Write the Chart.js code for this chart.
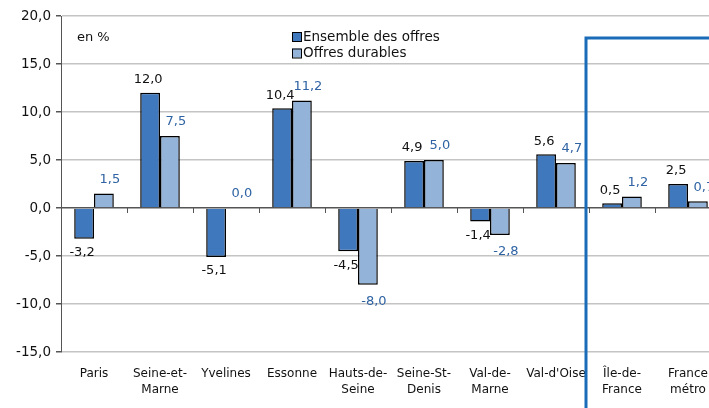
<!DOCTYPE html>
<html>
<head>
<meta charset="utf-8">
<script src="https://cdn.jsdelivr.net/npm/chart.js@4.4.0/dist/chart.umd.min.js"></script>
<style>
  html, body { margin: 0; padding: 0; background: #fff; overflow: hidden; }
  #wrap { position: relative; width: 726px; height: 408px; }
</style>
</head>
<body>
<div id="wrap"><canvas id="barChart"></canvas></div>
<script>
const categories = [
  ['Paris'], ['Seine-et-', 'Marne'], ['Yvelines'], ['Essonne'], ['Hauts-de-', 'Seine'],
  ['Seine-St-', 'Denis'], ['Val-de-', 'Marne'], ["Val-d'Oise"], ['Île-de-', 'France'], ['France', 'métro']
];
const ensembleOffres = [-3.2, 12.0, -5.1, 10.4, -4.5, 4.9, -1.4, 5.6, 0.5, 2.5];
const offresDurables = [1.5, 7.5, 0.0, 11.2, -8.0, 5.0, -2.8, 4.7, 1.2, 0.7];
const seriesNames = ['Ensemble des offres', 'Offres durables'];

const FONT = '"DejaVu Sans", sans-serif';
const fmt = v => v.toFixed(1).replace('.', ',');

// labels, legend, zero-line ticks and the blue frame
const decorPlugin = {
  id: 'decor',
  afterDatasetsDraw(chart) {
    const { ctx, scales: { x, y } } = chart;
    ctx.save();

    // small tick marks under the zero line, between categories
    const y0 = y.getPixelForValue(0);
    ctx.strokeStyle = '#555';
    ctx.lineWidth = 1;
    for (let i = 1; i < categories.length; i++) {
      const px = Math.round(x.getPixelForValue(i - 0.5)) + 0.5;
      ctx.beginPath();
      ctx.moveTo(px, y0);
      ctx.lineTo(px, y0 + 5);
      ctx.stroke();
    }

    // value labels
    ctx.font = '13px ' + FONT;
    ctx.textAlign = 'center';
    ctx.textBaseline = 'middle';
    chart.data.datasets.forEach((ds, di) => {
      const meta = chart.getDatasetMeta(di);
      meta.data.forEach((bar, i) => {
        const v = ds.data[i];
        const dx = di === 0 ? -2 : 6;
        const dy = v >= 0 ? (di === 0 ? -13 : -14) : (di === 0 ? 14 : 17);
        ctx.fillStyle = di === 0 ? '#111' : '#2f63a3';
        ctx.fillText(fmt(v), bar.x + dx, bar.y + dy);
      });
    });

    // "en %"
    ctx.fillStyle = '#111';
    ctx.textAlign = 'left';
    ctx.font = '13px ' + FONT;
    ctx.fillText('en %', 77, 38);

    // legend
    const colors = chart.data.datasets.map(d => d.backgroundColor);
    seriesNames.forEach((name, k) => {
      const ly = 37 + k * 16.5;
      ctx.fillStyle = colors[k];
      ctx.fillRect(292, ly - 5, 9, 9);
      ctx.strokeStyle = '#000';
      ctx.lineWidth = 1;
      ctx.strokeRect(292.5, ly - 4.5, 9, 9);
      ctx.fillStyle = '#111';
      ctx.font = '13.5px ' + FONT;
      ctx.fillText(name, 303, ly);
    });

    // blue frame around Île-de-France / France
    const bx = x.getPixelForValue(7.5) - 3;
    const by = y.getPixelForValue(17.7);
    ctx.strokeStyle = '#1a6cb8';
    ctx.lineWidth = 3;
    ctx.beginPath();
    ctx.moveTo(bx, chart.height + 5);
    ctx.lineTo(bx, by);
    ctx.lineTo(chart.width + 5, by);
    ctx.stroke();

    ctx.restore();
  }
};

new Chart(document.getElementById('barChart').getContext('2d'), {
  type: 'bar',
  data: {
    labels: categories,
    datasets: [
      {
        label: seriesNames[0],
        data: ensembleOffres,
        backgroundColor: '#3f78bd',
        borderColor: '#000',
        borderWidth: 1.5,
        barPercentage: 1,
        categoryPercentage: 0.6
      },
      {
        label: seriesNames[1],
        data: offresDurables,
        backgroundColor: '#94b3d8',
        borderColor: '#000',
        borderWidth: 1.5,
        barPercentage: 1,
        categoryPercentage: 0.6
      }
    ]
  },
  options: {
    responsive: true,
    maintainAspectRatio: false,
    animation: false,
    layout: { padding: { top: 16, right: 5, left: 0, bottom: 0 } },
    plugins: {
      legend: { display: false },
      tooltip: { enabled: false }
    },
    scales: {
      x: {
        grid: { display: false },
        border: { display: false },
        ticks: {
          color: '#111',
          padding: 5,
          maxRotation: 0,
          autoSkip: false,
          font: { family: FONT, size: 12, lineHeight: 1.4 }
        },
        afterFit(scale) { scale.height = 56; }
      },
      y: {
        min: -15,
        max: 20,
        border: { display: true, color: '#555', width: 1 },
        grid: {
          color: c => c.tick && c.tick.value === 0 ? '#555' : '#c4c4c4',
          lineWidth: 1.5,
          tickLength: 5,
          tickColor: '#555'
        },
        ticks: {
          stepSize: 5,
          color: '#111',
          padding: 5,
          font: { family: FONT, size: 13.5 },
          callback: v => fmt(v)
        },
        afterFit(scale) { scale.width = 61; }
      }
    }
  },
  plugins: [decorPlugin]
});
</script>
</body>
</html>
